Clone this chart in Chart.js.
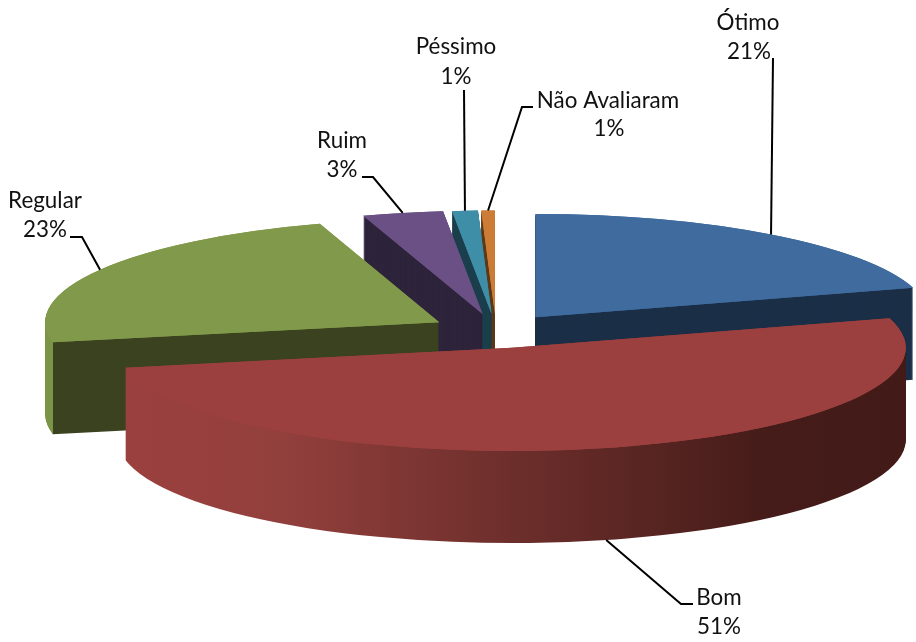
<!DOCTYPE html>
<html lang="pt">
<head>
  <meta charset="UTF-8" />
  <title>Avaliação</title>
  <script src="https://cdn.jsdelivr.net/npm/chart.js"></script>
  <style>
    body { margin: 0; background: #fff; }
    canvas { display: block; }
  </style>
</head>
<body>
  <canvas id="pizza" width="916" height="642"></canvas>
  <script>
  // categorias e valores
  const categorias = ['Ótimo', 'Bom', 'Regular', 'Ruim', 'Péssimo', 'Não Avaliaram'];
  const valores = [20.4, 51.5, 23.2, 3.3, 1.05, 0.55];
  const rotulos = ['21%', '51%', '23%', '3%', '1%', '1%'];

  const coresTopo = ['#3f6b9e', '#9b403e', '#81994a', '#6a5085', '#3f8ea8', '#cc7c35'];
  const coresFace = ['#1b2f47', '#421a18', '#3a421f', '#2d233a', '#1b3f4c', '#5c3a1a'];

  // perspectiva da pizza
  const RAIO = 394;
  const ACHATAMENTO = 0.262;
  const PROFUNDIDADE = 92;
  const EXPLOSAO = 66;
  // ordem de pintura, de tras para frente
  const ordem = [0, 5, 4, 3, 2, 1];

  // texto: centro x, y de cada linha; linha guia: pontos do lado do texto
  const layoutRotulos = [
    { x: 748, y: 23, x2: 749, y2: 52, guia: [[773, 58]] },
    { x: 719, y: 598, x2: 719, y2: 627, guia: [[693, 604], [681, 604]], fundo: true },
    { x: 45, y: 201, x2: 45, y2: 230, guia: [[70, 237], [82, 237]] },
    { x: 342, y: 141, x2: 342, y2: 170, guia: [[362, 177], [373, 177]] },
    { x: 456, y: 47, x2: 456, y2: 77, guia: [[464, 90]] },
    { x: 608, y: 101, x2: 609, y2: 129, guia: [[533, 107], [522, 107]] }
  ];

  function preenchimentoLateral(ctx, el, i) {
    const x0 = el.x - RAIO, x1 = el.x + RAIO;
    if (i === 1) {
      const g = ctx.createLinearGradient(x0, 0, x1, 0);
      g.addColorStop(0, '#9b403e');
      g.addColorStop(0.2, '#93403d');
      g.addColorStop(0.82, '#451c19');
      g.addColorStop(1, '#421a18');
      return g;
    }
    if (i === 2) {
      // parede externa clara a esquerda do corte
      const t = (Math.cos(el.startAngle) + 1) / 2;
      const g = ctx.createLinearGradient(x0, 0, x1, 0);
      g.addColorStop(0, '#7b9445');
      g.addColorStop(t, '#7b9445');
      g.addColorStop(t + 0.0005, coresFace[2]);
      g.addColorStop(1, coresFace[2]);
      return g;
    }
    return coresFace[i];
  }

  function desenhaFatia(ctx, el, cor, dy) {
    const original = el.options;
    el.options = Object.assign({}, original, {
      backgroundColor: cor, borderColor: cor, borderWidth: 0, offset: 0, spacing: 0
    });
    const meio = (el.startAngle + el.endAngle) / 2;
    ctx.save();
    ctx.translate(0, dy);
    ctx.translate(el.x, el.y);
    ctx.scale(1, ACHATAMENTO);
    ctx.translate(-el.x, -el.y);
    ctx.translate(Math.cos(meio) * EXPLOSAO, Math.sin(meio) * EXPLOSAO);
    el.draw(ctx);
    ctx.restore();
    el.options = original;
  }

  const pizza3d = {
    id: 'pizza3d',
    beforeDatasetsDraw(chart) {
      const ctx = chart.ctx;
      const arcos = chart.getDatasetMeta(0).data;
      ordem.forEach(i => {
        const el = arcos[i];
        const lateral = preenchimentoLateral(ctx, el, i);
        for (let d = PROFUNDIDADE; d >= 1; d--) desenhaFatia(ctx, el, lateral, d);
        // duas vezes para esconder a franja escura da borda
        desenhaFatia(ctx, el, coresTopo[i], 0);
        desenhaFatia(ctx, el, coresTopo[i], 0);
      });
      return false; // as fatias ja foram pintadas na ordem certa
    },
    afterDraw(chart) {
      const ctx = chart.ctx;
      const arcos = chart.getDatasetMeta(0).data;
      ctx.save();
      ctx.strokeStyle = '#000';
      ctx.lineWidth = 2;
      arcos.forEach((el, i) => {
        const meio = (el.startAngle + el.endAngle) / 2;
        const lay = layoutRotulos[i];
        const ax = el.x + Math.cos(meio) * (RAIO + EXPLOSAO);
        let ay = el.y + Math.sin(meio) * (RAIO + EXPLOSAO) * ACHATAMENTO;
        if (lay.fundo) ay += PROFUNDIDADE;
        ctx.beginPath();
        lay.guia.forEach((p, k) => k === 0 ? ctx.moveTo(p[0], p[1]) : ctx.lineTo(p[0], p[1]));
        ctx.lineTo(ax, ay);
        ctx.stroke();
      });
      ctx.fillStyle = '#111';
      ctx.font = '22.4px Lato';
      ctx.textAlign = 'center';
      ctx.textBaseline = 'middle';
      categorias.forEach((nome, i) => {
        const lay = layoutRotulos[i];
        ctx.fillText(nome, lay.x, lay.y);
        ctx.fillText(rotulos[i], lay.x2, lay.y2);
      });
      ctx.restore();
    }
  };

  new Chart(document.getElementById('pizza').getContext('2d'), {
    type: 'pie',
    data: {
      labels: categorias,
      datasets: [{ data: valores, backgroundColor: coresTopo, borderWidth: 0 }]
    },
    options: {
      responsive: false,
      animation: false,
      radius: RAIO,
      layout: { padding: { left: 76, top: 20 } },
      plugins: { legend: { display: false }, tooltip: { enabled: false } }
    },
    plugins: [pizza3d]
  });
  </script>
</body>
</html>
